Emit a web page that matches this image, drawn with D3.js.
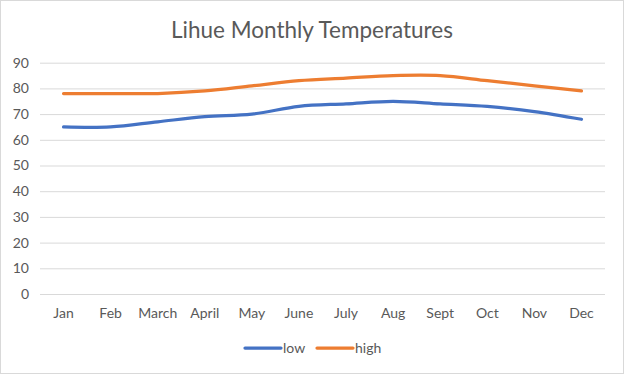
<!DOCTYPE html>
<html><head><meta charset="utf-8">
<script src="https://cdn.jsdelivr.net/npm/d3@7"></script>
<style>body{margin:0;background:#fff}svg{display:block}</style>
</head><body><svg id="c" width="624" height="374"></svg>
<script>
const months = ["Jan","Feb","March","April","May","June","July","Aug","Sept","Oct","Nov","Dec"];
const low = [65,65,67,69,70,73,74,75,74,73,71,68];
const high = [78,78,78,79,81,83,84,85,85,83,81,79];
const yTicks = [0,10,20,30,40,50,60,70,80,90];
const seriesNames = ["low","high"];
const colors = ["#4472C4","#ED7D31"];

const svg = d3.select("#c");
const W = 624, H = 374;
const font = "Lato, 'Open Sans', sans-serif";
svg.append("rect").attr("x",0.5).attr("y",0.5).attr("width",W-1).attr("height",H-1)
  .attr("fill","#fff").attr("stroke","#D9D9D9");

const x = d3.scaleBand().domain(months).range([40,605]);
const y = d3.scaleLinear().domain([0,90]).range([294,62.7]);

svg.append("text").attr("x",312).attr("y",38).attr("text-anchor","middle")
  .attr("font-family",font).attr("font-size",22.5).attr("fill","#595959")
  .text("Lihue Monthly Temperatures");

const yAxis = svg.append("g").attr("transform","translate(40,0)")
  .call(d3.axisLeft(y).tickValues(yTicks).tickSize(-565).tickPadding(11));
yAxis.select(".domain").remove();
yAxis.selectAll("line").attr("stroke","#D9D9D9").attr("stroke-width",1);
yAxis.selectAll("text").attr("font-family",font).attr("font-size",14).attr("fill","#595959");

const xAxis = svg.append("g").attr("transform","translate(0,294)")
  .call(d3.axisBottom(x).tickSize(0).tickPadding(14));
xAxis.select(".domain").remove();
xAxis.selectAll("text").attr("font-family",font).attr("font-size",14).attr("fill","#595959");

const line = d3.line().x((d,i)=>x(months[i])+x.bandwidth()/2).y(d=>y(d))
  .curve(d3.curveCatmullRom.alpha(0.5));
[low,high].forEach((s,k)=>{
  svg.append("path").attr("d",line(s)).attr("fill","none")
    .attr("stroke",colors[k]).attr("stroke-width",3.25).attr("stroke-linecap","round");
});

const lx = [245,317];
seriesNames.forEach((n,k)=>{
  svg.append("line").attr("x1",lx[k]).attr("x2",lx[k]+36).attr("y1",348).attr("y2",348)
    .attr("stroke",colors[k]).attr("stroke-width",3.25).attr("stroke-linecap","round");
  svg.append("text").attr("x",lx[k]+38).attr("y",353).attr("font-family",font)
    .attr("font-size",14).attr("fill","#595959").text(n);
});
</script></body></html>
